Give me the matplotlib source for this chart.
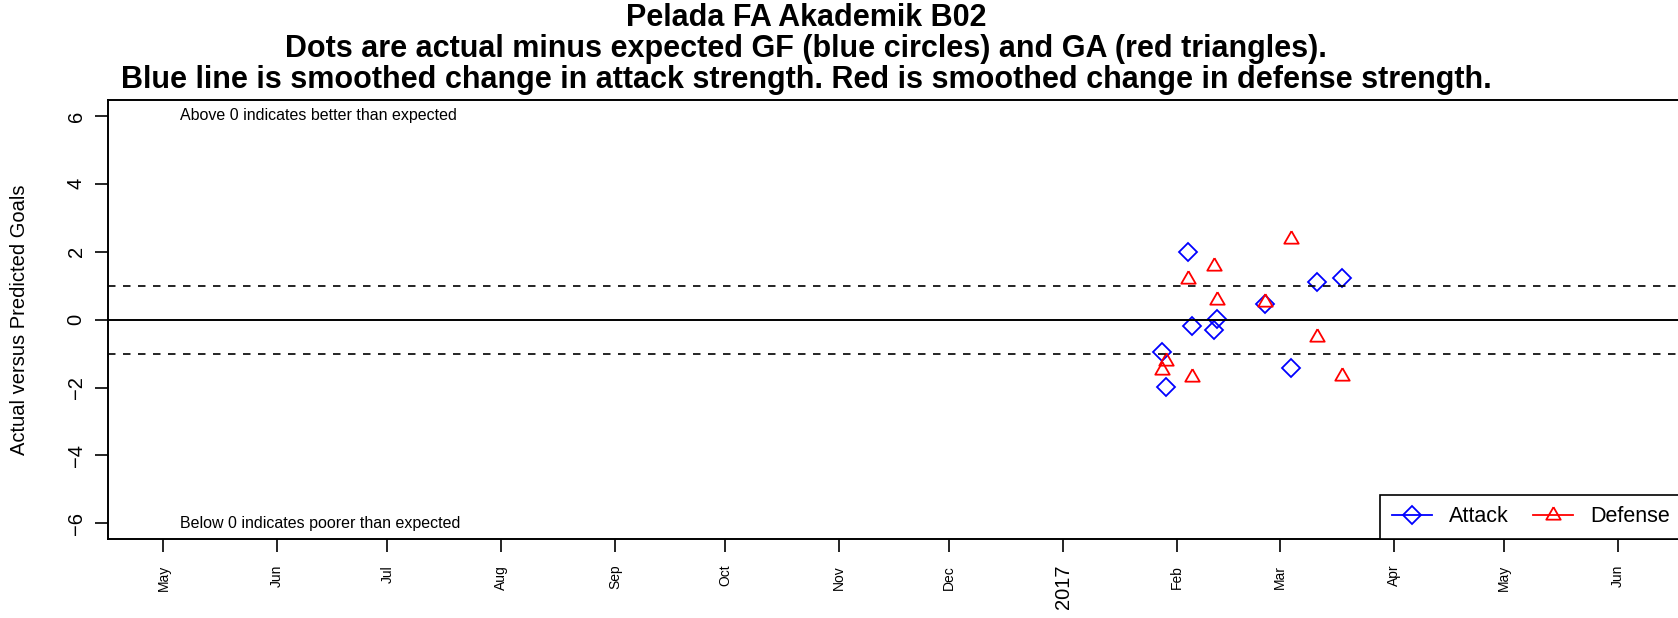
import matplotlib
matplotlib.use('Agg')
import matplotlib.pyplot as plt
import matplotlib.dates as mdates
from matplotlib.lines import Line2D
import numpy as np
from datetime import datetime

plt.rcParams['font.family'] = ['Liberation Sans', 'DejaVu Sans']

# ---- data ----
match_dates = ['2017-01-28', '2017-01-29', '2017-02-04', '2017-02-05', '2017-02-11',
               '2017-02-12', '2017-02-25', '2017-03-04', '2017-03-11', '2017-03-18']
attack_resid = [-0.94, -1.98, 2.00, -0.18, -0.31, 0.03, 0.46, -1.42, 1.11, 1.23]
defense_resid = [-1.47, -1.22, 1.20, -1.69, 1.59, 0.58, 0.53, 2.37, -0.50, -1.65]

tick_dates = ['2016-05-01', '2016-06-01', '2016-07-01', '2016-08-01', '2016-09-01',
              '2016-10-01', '2016-11-01', '2016-12-01', '2017-01-01', '2017-02-01',
              '2017-03-01', '2017-04-01', '2017-05-01', '2017-06-01']
tick_labels = ['May', 'Jun', 'Jul', 'Aug', 'Sep', 'Oct', 'Nov', 'Dec', '2017',
               'Feb', 'Mar', 'Apr', 'May', 'Jun']
y_ticks = [-6, -4, -2, 0, 2, 4, 6]
ref_levels = [-1, 1]

title_lines = ['Pelada FA Akademik B02',
               'Dots are actual minus expected GF (blue circles) and GA (red triangles).',
               'Blue line is smoothed change in attack strength. Red is smoothed change in defense strength.']
ylabel = 'Actual versus Predicted Goals'
note_above = 'Above 0 indicates better than expected'
note_below = 'Below 0 indicates poorer than expected'

# ---- figure ----
W, H = 1678, 618
fig = plt.figure(figsize=(W / 100, H / 100), dpi=100)
ax_l, ax_r, ax_t, ax_b = 108.3, 1682.0, 100.0, 539.3
ax = fig.add_axes([ax_l / W, (H - ax_b) / H, (ax_r - ax_l) / W, (ax_b - ax_t) / H])

tri = [(0, 1), (-0.866, -0.5), (0.866, -0.5), (0, 1)]
dia_ms, tri_ms, mew = 9.0, 12.0, 1.3

md = [datetime.strptime(d, '%Y-%m-%d') for d in match_dates]
ax.plot(md, attack_resid, linestyle='none', marker='D', ms=dia_ms, mfc='none',
        mec='#0000ff', mew=mew)
ax.plot(md, defense_resid, linestyle='none', marker=tri, ms=tri_ms, mfc='none',
        mec='#ff0000', mew=mew)

ax.axhline(0, color='black', lw=1.4)
for lv in ref_levels:
    ax.axhline(lv, color='black', lw=1.2, linestyle=(0, (4.5, 4.5)))

td = [datetime.strptime(d, '%Y-%m-%d') for d in tick_dates]
x0 = mdates.date2num(td[0]) - 15.0
x1 = mdates.date2num(td[-1]) + 17.5
ax.set_xlim(x0, x1)
ax.set_ylim(-6.47, 6.47)

ax.set_xticks(td)
ax.set_xticklabels(tick_labels, rotation=90, fontsize=10, va='top', ha='center')
for lab in ax.get_xticklabels():
    if lab.get_text() == '2017':
        lab.set_fontsize(14.5)
ax.tick_params(axis='x', length=9.4, width=1.2, pad=9.0)
ax.set_yticks(y_ticks)
ax.set_yticklabels([('\u2212' + str(abs(v))) if v < 0 else str(v) for v in y_ticks],
                   rotation=90, fontsize=14.5, va='center')
ax.tick_params(axis='y', length=9.4, width=1.2, pad=7)
ax.set_ylabel(ylabel, fontsize=14.5)
ax.yaxis.label.set_verticalalignment('center')
ax.yaxis.set_label_coords((20 - ax_l) / (ax_r - ax_l), 0.5)

for s in ax.spines.values():
    s.set_linewidth(1.4)

ax.text(datetime(2016, 5, 5, 12), 6, note_above, fontsize=11.5, ha='left', va='center')
ax.text(datetime(2016, 5, 5, 12), -6, note_below, fontsize=11.5, ha='left', va='center')

handles = [Line2D([], [], color='#0000ff', marker='D', ms=dia_ms, mfc='none', mew=mew, lw=1.3),
           Line2D([], [], color='#ff0000', marker=tri, ms=tri_ms, mfc='none', mew=mew, lw=1.3)]
leg = ax.legend(handles, ['Attack', 'Defense'], loc='lower right', ncol=2,
                fontsize=15.5, frameon=True, fancybox=False, edgecolor='black',
                borderaxespad=0, borderpad=0.55, handlelength=1.85, handletextpad=0.8,
                columnspacing=1.15)
leg.get_frame().set_linewidth(1.2)
leg.get_frame().set_alpha(1)

ys = [26.5, 57.5, 88]
for line, yb in zip(title_lines, ys):
    fig.text(806 / W, 1 - yb / H, line, fontsize=22, fontweight='bold',
             ha='center', va='baseline')

fig.savefig('out.png', dpi=100)
